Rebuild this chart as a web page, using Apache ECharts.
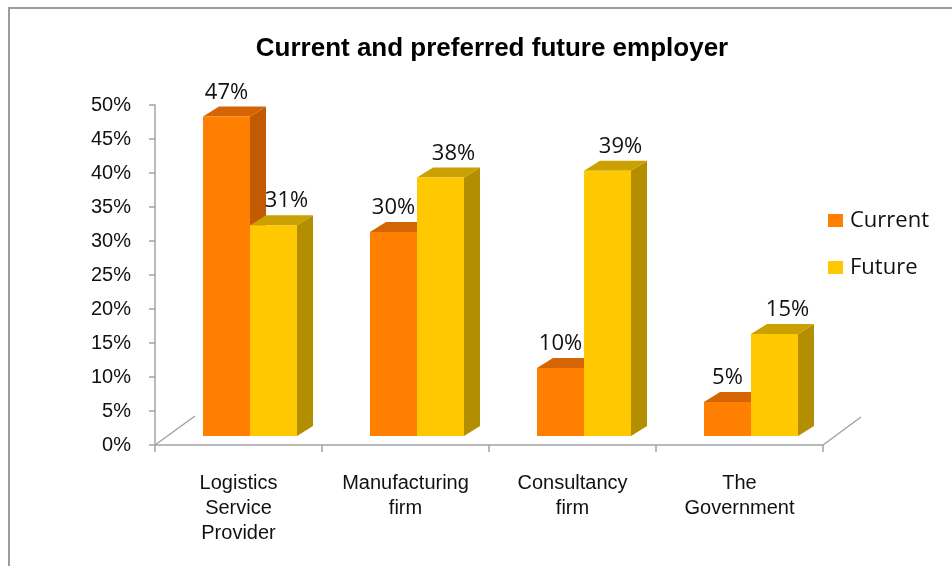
<!DOCTYPE html>
<html>
<head>
<meta charset="utf-8">
<script src="https://cdn.jsdelivr.net/npm/echarts@6/dist/echarts.min.js"></script>
<style>
  html, body { margin: 0; padding: 0; background: #fff; }
  #chart { width: 952px; height: 566px; }
</style>
</head>
<body>
<div id="chart"></div>
<script>
// Employer categories and survey shares (percent)
const categories = ['Logistics\nService\nProvider', 'Manufacturing\nfirm', 'Consultancy\nfirm', 'The\nGovernment'];
const currentValues = [47, 30, 10, 5];
const futureValues = [31, 38, 39, 15];
const seriesNames = ['Current', 'Future'];

// Face colours for the pseudo-3D columns
const palette = {
  Current: { front: '#ff7f00', side: '#c25a02', top: '#d46404' },
  Future:  { front: '#ffc800', side: '#b28e00', top: '#caa100' }
};

// Extrusion geometry (pixels) of the 3D look
const DEPTH_X = 16, DEPTH_Y = 10, LIFT = 9;
const BAR_FRAC = 0.2815;          // column width as a share of a category
const OFFSETS = { Current: -0.2126, Future: 0.0689 }; // left edge vs category centre
const LABEL_DX = { Current: 0, Future: 13 };

function makeBarRenderer(name) {
  const c = palette[name];
  return function (params, api) {
    const cat = api.value(0);
    const val = api.value(1);
    const base = api.coord([cat, 0]);
    const topPt = api.coord([cat, val]);
    const W = api.size([1, 0])[0];
    const bw = W * BAR_FRAC;
    const x0 = base[0] + OFFSETS[name] * W;
    const x1 = x0 + bw;
    const yB = base[1] - LIFT;
    const yT = topPt[1] - LIFT;
    return {
      type: 'group',
      children: [
        { type: 'polygon', shape: { points: [[x1, yB], [x1 + DEPTH_X, yB - DEPTH_Y], [x1 + DEPTH_X, yT - DEPTH_Y], [x1, yT]] },
          style: { fill: c.side } },
        { type: 'polygon', shape: { points: [[x0, yT], [x0 + DEPTH_X, yT - DEPTH_Y], [x1 + DEPTH_X, yT - DEPTH_Y], [x1, yT]] },
          style: { fill: c.top } },
        { type: 'rect', shape: { x: x0, y: yT, width: bw, height: yB - yT },
          style: { fill: c.front } },
        { type: 'text', x: (x0 + x1) / 2 + LABEL_DX[name], y: yT - 24,
          style: { text: val + '%', fill: '#111', font: '22px "Open Sans"', textAlign: 'center', textVerticalAlign: 'middle' } }
      ]
    };
  };
}

// Receding floor edges at both ends of the category axis
function renderFloor(params, api) {
  const W = api.size([1, 0])[0];
  const first = api.coord([0, 0]);
  const last = api.coord([categories.length - 1, 0]);
  const xl = first[0] - W / 2, xr = last[0] + W / 2, y = first[1];
  const st = { stroke: '#a3a3a3', lineWidth: 1.5 };
  return {
    type: 'group',
    children: [
      { type: 'line', shape: { x1: xl, y1: y, x2: xl + 40, y2: y - 29 }, style: st },
      { type: 'line', shape: { x1: xr, y1: y, x2: xr + 38, y2: y - 28 }, style: st }
    ]
  };
}

const chart = echarts.init(document.getElementById('chart'));
chart.setOption({
  animation: false,
  backgroundColor: '#fff',
  graphic: [
    { type: 'rect', shape: { x: 9, y: 8, width: 1000, height: 600 },
      style: { fill: 'none', stroke: '#9c9c9c', lineWidth: 2 }, z: 100 }
  ],
  title: {
    text: 'Current and preferred future employer',
    left: 487, top: 31, textAlign: 'center',
    textStyle: { fontFamily: 'Liberation Sans', fontWeight: 'bold', fontSize: 26, color: '#000' }
  },
  legend: {
    orient: 'vertical', left: 828, top: 207, itemGap: 20, padding: 0,
    itemWidth: 15, itemHeight: 13, icon: 'rect',
    data: seriesNames,
    textStyle: { fontFamily: 'Open Sans', fontSize: 22, color: '#111', lineHeight: 27, padding: [0, 0, 0, 2] }
  },
  grid: { left: 155, right: 129, top: 105, bottom: 121 },
  xAxis: {
    type: 'category', data: categories,
    axisLine: { lineStyle: { color: '#a3a3a3', width: 1.5 } },
    axisTick: { show: true, length: 7, lineStyle: { color: '#a3a3a3', width: 1.5 } },
    axisLabel: { margin: 26, fontFamily: 'Liberation Sans', fontSize: 20, lineHeight: 25, color: '#111', interval: 0 }
  },
  yAxis: {
    type: 'value', min: 0, max: 50, interval: 5,
    axisLine: { show: true, lineStyle: { color: '#a3a3a3', width: 1.5 } },
    axisTick: { show: true, length: 6, lineStyle: { color: '#a3a3a3', width: 1.5 } },
    splitLine: { show: false },
    axisLabel: { formatter: '{value}%', margin: 24, fontFamily: 'Liberation Sans', fontSize: 20, color: '#111' }
  },
  series: [
    { type: 'custom', name: 'floor', renderItem: renderFloor, data: [[0, 0]], silent: true, z: 1 },
    { type: 'custom', name: 'Current', renderItem: makeBarRenderer('Current'),
      itemStyle: { color: palette.Current.front }, encode: { x: 0, y: 1 },
      data: currentValues.map((v, i) => [i, v]), z: 2 },
    { type: 'custom', name: 'Future', renderItem: makeBarRenderer('Future'),
      itemStyle: { color: palette.Future.front }, encode: { x: 0, y: 1 },
      data: futureValues.map((v, i) => [i, v]), z: 3 }
  ]
});
</script>
</body>
</html>
